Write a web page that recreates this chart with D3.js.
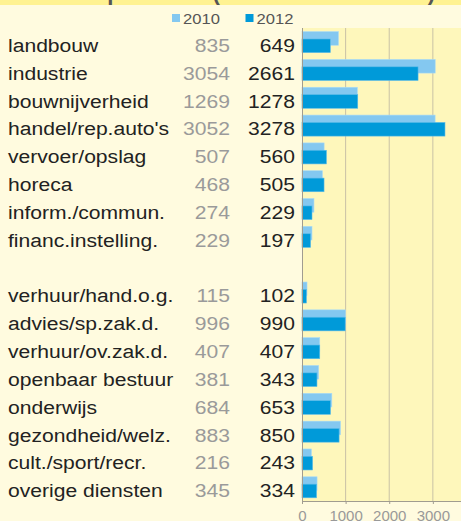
<!DOCTYPE html>
<html>
<head>
<meta charset="utf-8">
<script src="https://cdn.jsdelivr.net/npm/d3@7"></script>
<style>
  body { margin: 0; background: #fffbdf; }
  svg { display: block; font-family: "Liberation Sans", Arial, sans-serif; }
</style>
</head>
<body>
<div id="chart"></div>
<script>
let svgWidth = 461;
let svgHeight = 521;

// Data

let categories = ["landbouw", "industrie", "bouwnijverheid", "handel/rep.auto's", "vervoer/opslag",
  "horeca", "inform./commun.", "financ.instelling.", "",
  "verhuur/hand.o.g.", "advies/sp.zak.d.", "verhuur/ov.zak.d.", "openbaar bestuur",
  "onderwijs", "gezondheid/welz.", "cult./sport/recr.", "overige diensten"];
let values2010 = [835, 3054, 1269, 3052, 507, 468, 274, 229, null, 115, 996, 407, 381, 684, 883, 216, 345];
let values2012 = [649, 2661, 1278, 3278, 560, 505, 229, 197, null, 102, 990, 407, 343, 653, 850, 243, 334];
let years = ["2010", "2012"];
let xTicks = [0, 1000, 2000, 3000];

let rows = categories.map((c, i) => ({ key: "r" + i, name: c, v2010: values2010[i], v2012: values2012[i] }));

let svg = d3.select("#chart").append("svg").attr("width", svgWidth).attr("height", svgHeight);

// Backgrounds

svg.append("rect").attr("width", svgWidth).attr("height", svgHeight).attr("fill", "#fffbdf");

let clip = svg.append("clipPath").attr("id", "topclip");
clip.append("rect").attr("width", svgWidth).attr("height", 5);
svg.append("rect").attr("width", svgWidth).attr("height", 5).attr("fill", "#fff291");
svg.append("text")
  .attr("clip-path", "url(#topclip)")
  .attr("x", 435).attr("y", 0)
  .attr("text-anchor", "end")
  .attr("font-size", 22).attr("font-weight", "bold").attr("fill", "#555")
  .text("Werkzame personen (aantal banen x 1000)");

let plotLeft = 302, plotTop = 28, plotBottom = 501;

let xScale = d3.scaleLinear().domain([0, 3650]).range([plotLeft, 461.2]);
let yScale = d3.scaleBand().domain(rows.map(d => d.key)).range([plotTop, plotBottom]);
let bw = yScale.bandwidth();

svg.append("rect")
  .attr("x", plotLeft).attr("y", plotTop)
  .attr("width", svgWidth - plotLeft).attr("height", plotBottom - plotTop)
  .attr("fill", "#fef7bb");

// Grid lines

svg.append("g").selectAll("line")
  .data(xTicks.slice(1))
  .enter().append("line")
  .attr("x1", d => xScale(d)).attr("x2", d => xScale(d))
  .attr("y1", plotTop).attr("y2", plotBottom)
  .attr("stroke", "#c9c2a6").attr("stroke-width", 1);

// Bars

let barRows = rows.filter(d => d.v2010 !== null);

svg.append("g").selectAll("rect")
  .data(barRows)
  .enter().append("rect")
  .attr("x", plotLeft)
  .attr("y", d => yScale(d.key) + bw * 0.13)
  .attr("width", d => xScale(d.v2010) - plotLeft)
  .attr("height", bw * 0.49)
  .attr("fill", "#84c8f0")
  .attr("stroke", "#a9dbf6").attr("stroke-width", 0.6);

svg.append("g").selectAll("rect")
  .data(barRows)
  .enter().append("rect")
  .attr("x", plotLeft)
  .attr("y", d => yScale(d.key) + bw * 0.395)
  .attr("width", d => xScale(d.v2012) - plotLeft)
  .attr("height", bw * 0.49)
  .attr("fill", "#009ad9")
  .attr("stroke", "#5bbbe8").attr("stroke-width", 0.6);

// Axes

let xAxis = svg.append("g")
  .attr("transform", `translate(0, ${plotBottom})`)
  .call(d3.axisBottom(xScale).tickValues(xTicks).tickSize(3).tickPadding(6).tickFormat(d3.format("d")));
xAxis.select(".domain").attr("stroke", "#a09c90");
xAxis.selectAll(".tick line").attr("stroke", "#a09c90");
xAxis.selectAll("text").attr("font-size", 15).attr("fill", "#999").attr("font-family", "Liberation Sans, Arial, sans-serif");

svg.append("line")
  .attr("x1", plotLeft + 0.5).attr("x2", plotLeft + 0.5)
  .attr("y1", plotTop).attr("y2", plotBottom)
  .attr("stroke", "#a09c90").attr("stroke-width", 1);

// Row labels

let labelRows = rows.filter(d => d.name !== "");
let sx = 1.11;

let addCol = (x, anchor, color, fn) => {
  svg.append("g").selectAll("text")
    .data(labelRows)
    .enter().append("text")
    .attr("transform", d => `translate(${x}, ${yScale(d.key) + 24}) scale(${sx}, 1)`)
    .attr("text-anchor", anchor)
    .attr("font-size", 19)
    .attr("fill", color)
    .text(fn);
};

addCol(8, "start", "#222", d => d.name);
addCol(230, "end", "#9a9a9a", d => d.v2010);
addCol(295, "end", "#222", d => d.v2012);

// Legend

let legendColors = ["#84c8f0", "#009ad9"];
let legendX = [172, 245.5];

let legend = svg.append("g").selectAll("g")
  .data(years)
  .enter().append("g")
  .attr("transform", (d, i) => `translate(${legendX[i]}, 14)`);
legend.append("rect").attr("width", 8).attr("height", 8).attr("fill", (d, i) => legendColors[i]);
legend.append("text")
  .attr("transform", `translate(11, 10) scale(1.07, 1)`)
  .attr("font-size", 15.5).attr("fill", "#555")
  .text(d => d);
</script>
</body>
</html>
